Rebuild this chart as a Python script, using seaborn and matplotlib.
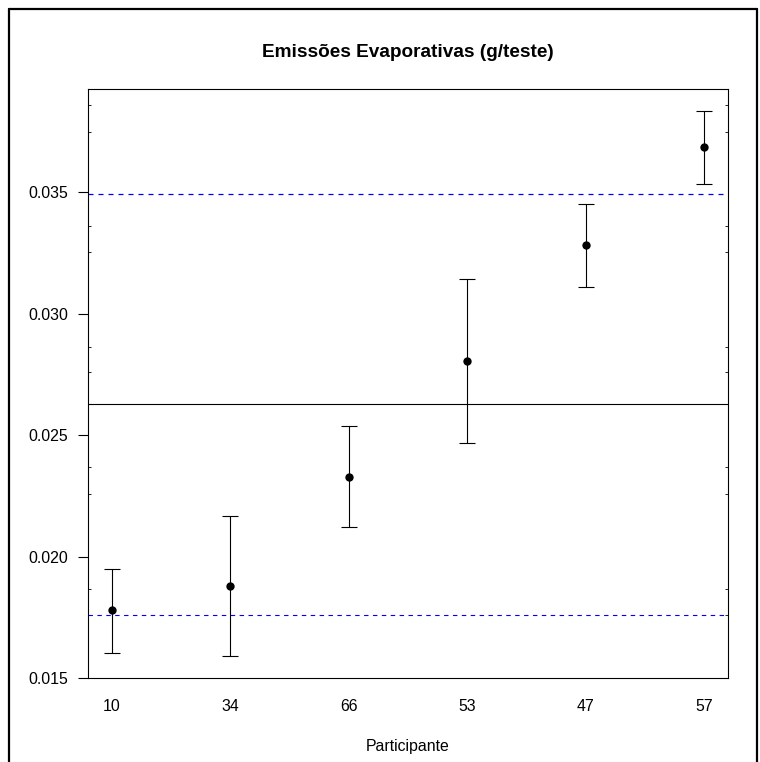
import matplotlib
matplotlib.use("Agg")
import matplotlib.pyplot as plt
import seaborn as sns
import pandas as pd
from matplotlib.lines import Line2D

# ---- data ----
participants = ["10", "34", "66", "53", "47", "57"]
means = [0.01780, 0.01879, 0.02327, 0.02805, 0.03282, 0.03685]
upper = [0.01949, 0.02167, 0.02537, 0.03142, 0.03451, 0.03833]
lower = [0.01603, 0.01591, 0.02121, 0.02467, 0.03109, 0.03533]
center_line = 0.02627
upper_limit = 0.03493
lower_limit = 0.01759
y_major_ticks = [0.015, 0.020, 0.025, 0.030, 0.035]
y_major_labels = ["0.015", "0.020", "0.025", "0.030", "0.035"]
y_minor_ticks = [0.01759, 0.01868, 0.02257, 0.02368, 0.02759, 0.02862,
                 0.03253, 0.03360, 0.03747, 0.03858]

sns.set_theme(style="white")
plt.rcParams["font.family"] = ["Liberation Sans", "DejaVu Sans"]

df = pd.DataFrame({"pos": range(1, len(participants) + 1),
                   "mean": means, "upper": upper, "lower": lower,
                   "participant": participants})

W, H = 760, 762
fig = plt.figure(figsize=(W / 100, H / 100), dpi=100)
ax = fig.add_axes([88 / W, 1 - 678 / H, (728 - 88) / W, (678 - 89) / H])

# reference lines
ax.axhline(center_line, color="black", lw=0.8, zorder=1)
ax.axhline(upper_limit, color="blue", lw=0.9, ls=(0, (4, 4)), zorder=1)
ax.axhline(lower_limit, color="blue", lw=0.8, ls=(0, (4, 4)), zorder=1)

# error bars
ax.errorbar(df["pos"], df["mean"],
            yerr=[df["mean"] - df["lower"], df["upper"] - df["mean"]],
            fmt="none", ecolor="black", elinewidth=0.8, capsize=6,
            capthick=0.8, zorder=2)
sns.scatterplot(data=df, x="pos", y="mean", color="black", s=36,
                edgecolor="black", linewidth=0, ax=ax, zorder=3)

ax.set_xlim(0.8, 6.2)
ax.set_ylim(0.015, 0.03924)

ax.set_xticks(df["pos"])
ax.set_xticklabels(participants)
ax.set_yticks(y_major_ticks)
ax.set_yticklabels(y_major_labels)
ax.set_yticks(y_minor_ticks, minor=True)

ax.tick_params(axis="x", which="both", length=0, pad=15, labelsize=11.4,
               labelcolor="black")
ax.tick_params(axis="y", which="major", left=True, right=False,
               direction="out", length=7.2, width=0.8, pad=7,
               labelsize=11.4, color="black", labelcolor="black")
ax.tick_params(axis="y", which="minor", left=True, right=True,
               direction="in", length=2.2, width=0.6, color="black")

for s in ax.spines.values():
    s.set_visible(True)
    s.set_color("black")
    s.set_linewidth(0.8)

ax.set_xlabel("Participante", fontsize=11.4, labelpad=18, color="black")
ax.set_ylabel("")
ax.set_title("Emissões Evaporativas (g/teste)", fontsize=13.7,
             fontweight="bold", pad=23, color="black")

# outer figure border (left, top, right; bottom lies outside the image)
bx0, bx1, by0 = 8.5 / W, 757 / W, 1 - 8.5 / H
fig.add_artist(Line2D([bx0, bx0], [-0.05, by0], transform=fig.transFigure,
                      color="black", lw=1.6))
fig.add_artist(Line2D([bx0, bx1], [by0, by0], transform=fig.transFigure,
                      color="black", lw=1.6))
fig.add_artist(Line2D([bx1, bx1], [-0.05, by0], transform=fig.transFigure,
                      color="black", lw=1.6))

fig.savefig("out.png", dpi=100)
